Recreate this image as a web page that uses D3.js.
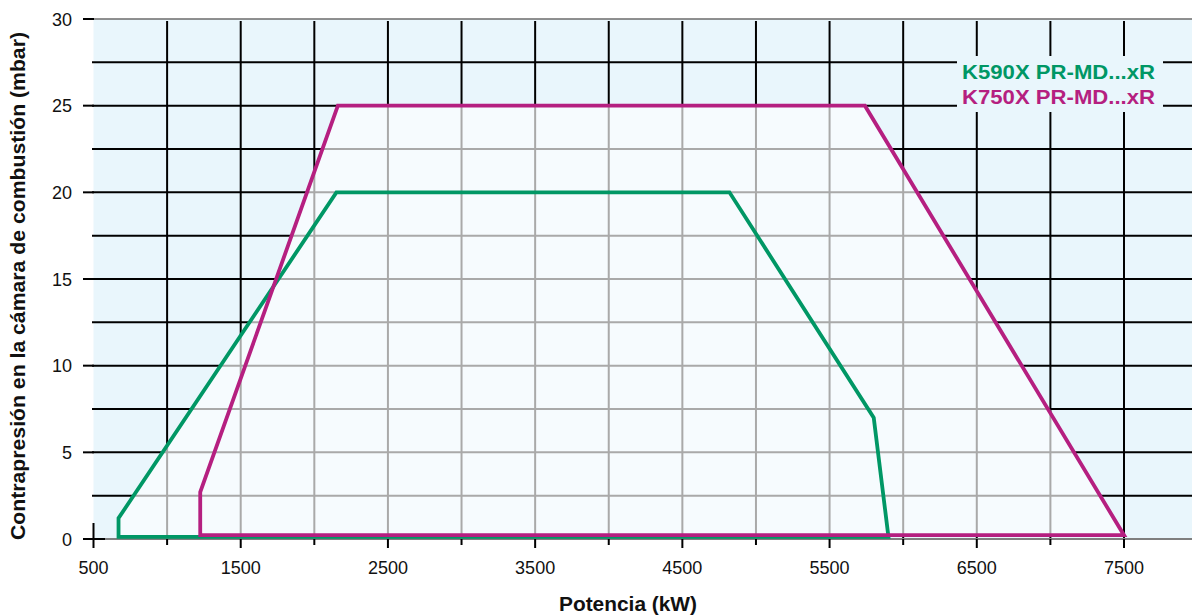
<!DOCTYPE html>
<html>
<head>
<meta charset="utf-8">
<script src="https://cdn.jsdelivr.net/npm/d3@7"></script>
<style>
  html, body { margin: 0; padding: 0; background: #ffffff; }
  svg { display: block; font-family: "Liberation Sans", Arial, Helvetica, sans-serif; }
</style>
</head>
<body>
<svg id="chart" width="1192" height="616"></svg>
<script>
// ---- data ----
const xTickValues = [500, 1500, 2500, 3500, 4500, 5500, 6500, 7500];
const xMinorTicks = [1000, 2000, 3000, 4000, 5000, 6000, 7000];
const yTickValues = [0, 5, 10, 15, 20, 25, 30];
const xGridValues = [1000, 1500, 2000, 2500, 3000, 3500, 4000, 4500, 5000, 5500, 6000, 6500, 7000, 7500];
const yGridValues = [2.5, 5, 7.5, 10, 12.5, 15, 17.5, 20, 22.5, 25, 27.5];

const seriesNames = ["K590X PR-MD...xR", "K750X PR-MD...xR"];
const greenKW   = [670, 670, 2150, 4820, 5800, 5900];
const greenMbar = [0.12, 1.2, 20, 20, 7, 0.12];
const magentaKW   = [1225, 1225, 2160, 5740, 7500];
const magentaMbar = [0.22, 2.7, 25, 25, 0.22];

const xTitle = "Potencia (kW)";
const yTitle = "Contrapresión en la cámara de combustión (mbar)";

// ---- layout ----
const W = 1192, H = 616;
const plotLeft = 93.5, plotRight = 1192, plotTop = 19, plotBottom = 539;
const x = d3.scaleLinear().domain([500, 7500]).range([93.5, 1124]);
const y = d3.scaleLinear().domain([0, 30]).range([539, 19]);

const GREEN = "#009765";
const MAGENTA = "#b51f80";
const BG = "#e9f6fc";
const INNER = "#f6fbfe";
const GRID_IN = "#a9a9a9";

const svg = d3.select("#chart");

const greenPts = greenKW.map((d, i) => [x(d), y(greenMbar[i])]);
const magentaPts = magentaKW.map((d, i) => [x(d), y(magentaMbar[i])]);
const poly = d3.line().curve(d3.curveLinearClosed);

// clip for union region
const defs = svg.append("defs");
const cp = defs.append("clipPath").attr("id", "unionClip");
cp.append("path").attr("d", poly(greenPts));
cp.append("path").attr("d", poly(magentaPts));

// background
svg.append("rect").attr("x", plotLeft).attr("y", plotTop)
  .attr("width", plotRight - plotLeft).attr("height", plotBottom - plotTop)
  .attr("fill", BG);

function drawGrid(g, color) {
  g.selectAll(".vg").data(xGridValues).join("line")
    .attr("x1", d => x(d)).attr("x2", d => x(d))
    .attr("y1", 21).attr("y2", plotBottom)
    .attr("stroke", color).attr("stroke-width", 2);
  g.selectAll(".hg").data(yGridValues).join("line")
    .attr("x1", 92).attr("x2", plotRight)
    .attr("y1", d => y(d)).attr("y2", d => y(d))
    .attr("stroke", color).attr("stroke-width", 2);
}
const gBlack = svg.append("g");
drawGrid(gBlack, "#000");

// inner fill
svg.append("path").attr("d", poly(greenPts)).attr("fill", INNER);
svg.append("path").attr("d", poly(magentaPts)).attr("fill", INNER);

// grey grid clipped to union
const gGrey = svg.append("g").attr("clip-path", "url(#unionClip)");
drawGrid(gGrey, GRID_IN);

// legend background
svg.append("rect").attr("x", 957).attr("y", 56).attr("width", 206).attr("height", 56).attr("fill", BG);

// top border
svg.append("line").attr("x1", plotLeft).attr("x2", plotRight)
  .attr("y1", plotTop).attr("y2", plotTop).attr("stroke", "#6b6b6b").attr("stroke-width", 1.5);

// bottom axis line
svg.append("line").attr("x1", 105).attr("x2", plotRight)
  .attr("y1", plotBottom).attr("y2", plotBottom).attr("stroke", "#7f7f7f").attr("stroke-width", 2);

// series outlines
svg.append("path").attr("d", poly(greenPts)).attr("fill", "none")
  .attr("stroke", GREEN).attr("stroke-width", 3.8).attr("stroke-linejoin", "miter");
svg.append("path").attr("d", poly(magentaPts)).attr("fill", "none")
  .attr("stroke", MAGENTA).attr("stroke-width", 3.8).attr("stroke-linejoin", "miter");

// y ticks
svg.selectAll(".yt").data(yTickValues).join("line")
  .attr("x1", 83).attr("x2", d => d === 0 ? 105 : 94)
  .attr("y1", d => y(d)).attr("y2", d => y(d))
  .attr("stroke", "#000").attr("stroke-width", 2);
svg.selectAll(".ytl").data(yTickValues).join("text")
  .attr("x", 72).attr("y", d => y(d) + 6.5)
  .attr("text-anchor", "end").attr("font-size", 18).attr("fill", "#111")
  .text(d => d);

// x ticks
svg.selectAll(".xt").data(xTickValues).join("line")
  .attr("x1", d => x(d)).attr("x2", d => x(d))
  .attr("y1", d => d === 500 ? 523 : plotBottom).attr("y2", 548)
  .attr("stroke", "#000").attr("stroke-width", 2);
svg.selectAll(".xtm").data(xMinorTicks).join("line")
  .attr("x1", d => x(d)).attr("x2", d => x(d))
  .attr("y1", plotBottom).attr("y2", 545)
  .attr("stroke", "#000").attr("stroke-width", 2);
svg.selectAll(".xtl").data(xTickValues).join("text")
  .attr("x", d => x(d)).attr("y", 574)
  .attr("text-anchor", "middle").attr("font-size", 18).attr("fill", "#111")
  .text(d => d);

// titles
svg.append("text").attr("x", 628).attr("y", 611)
  .attr("text-anchor", "middle").attr("font-size", 20.5).attr("font-weight", "bold")
  .attr("fill", "#111").attr("textLength", 138).attr("lengthAdjust", "spacingAndGlyphs")
  .text(xTitle);
svg.append("text").attr("transform", "translate(25,286) rotate(-90)")
  .attr("text-anchor", "middle").attr("font-size", 20.5).attr("font-weight", "bold")
  .attr("fill", "#111").attr("textLength", 508).attr("lengthAdjust", "spacingAndGlyphs")
  .text(yTitle);

// legend
const legendColors = [GREEN, MAGENTA];
svg.selectAll(".leg").data(seriesNames).join("text")
  .attr("x", 962).attr("y", (d, i) => 78.5 + i * 25)
  .attr("font-size", 21).attr("font-weight", "bold")
  .attr("fill", (d, i) => legendColors[i])
  .attr("textLength", 193).attr("lengthAdjust", "spacingAndGlyphs")
  .text(d => d);
</script>
</body>
</html>
